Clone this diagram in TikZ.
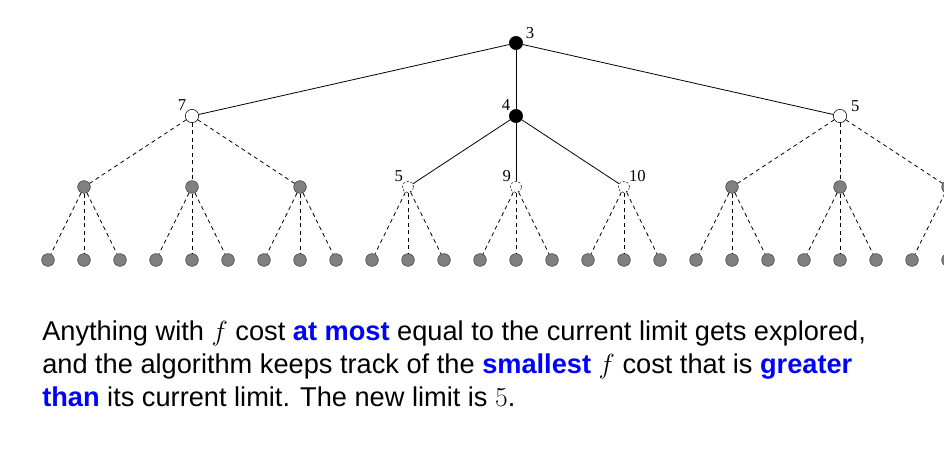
\documentclass[tikz,border=0pt]{standalone}
\usepackage{amsmath}
\usepackage{fontspec}
\setmainfont{Liberation Sans}
\newfontfamily\numfont{Liberation Serif}
\usepackage{tikz}

\begin{document}
\begin{tikzpicture}[x=0.75pt,y=0.75pt,yscale=-1,xscale=1,
  solidnode/.style={circle,draw,fill=black,inner sep=0pt,minimum size=10pt},
  opennode/.style={circle,draw,fill=white,inner sep=0pt,minimum size=10pt},
  fringenode/.style={circle,draw,fill=white,inner sep=0pt,minimum size=8.5pt,dash pattern={on 1.5pt off 1.5pt}},
  leafnode/.style={circle,draw=black!75,fill=black!50,inner sep=0pt,minimum size=9.5pt},
  lbl/.style={font=\numfont\fontsize{12.5}{12.5}\selectfont,inner sep=0.5pt},
  treeedge/.style={line width=0.6pt},
  dashedge/.style={line width=0.6pt,dash pattern={on 3pt off 2.6pt}},
  caption/.style={anchor=base west,inner sep=0pt,font=\fontsize{20.4}{24}\selectfont}]
\useasboundingbox (0,0) rectangle (944,473);
\clip (0,0) rectangle (944,473);

%Root and first level
\node [solidnode] (root) at (516,43) {};
\node [opennode] (n7) at (192,116) {};
\node [solidnode] (n4) at (516,116) {};
\node [opennode] (n5) at (840,116) {};

%Second level
\node [leafnode] (a1) at (84,187) {};
\node [leafnode] (a2) at (192,187) {};
\node [leafnode] (a3) at (300,187) {};
\node [fringenode] (b1) at (408,187) {};
\node [fringenode] (b2) at (516,187) {};
\node [fringenode] (b3) at (624,187) {};
\node [leafnode] (c1) at (732,187) {};
\node [leafnode] (c2) at (840,187) {};
\node [leafnode] (c3) at (948,187) {};

%Leaves
\node [leafnode] (a11) at (48,260) {};
\node [leafnode] (a12) at (84,260) {};
\node [leafnode] (a13) at (120,260) {};
\node [leafnode] (a21) at (156,260) {};
\node [leafnode] (a22) at (192,260) {};
\node [leafnode] (a23) at (228,260) {};
\node [leafnode] (a31) at (264,260) {};
\node [leafnode] (a32) at (300,260) {};
\node [leafnode] (a33) at (336,260) {};
\node [leafnode] (b11) at (372,260) {};
\node [leafnode] (b12) at (408,260) {};
\node [leafnode] (b13) at (444,260) {};
\node [leafnode] (b21) at (480,260) {};
\node [leafnode] (b22) at (516,260) {};
\node [leafnode] (b23) at (552,260) {};
\node [leafnode] (b31) at (588,260) {};
\node [leafnode] (b32) at (624,260) {};
\node [leafnode] (b33) at (660,260) {};
\node [leafnode] (c11) at (696,260) {};
\node [leafnode] (c12) at (732,260) {};
\node [leafnode] (c13) at (768,260) {};
\node [leafnode] (c21) at (804,260) {};
\node [leafnode] (c22) at (840,260) {};
\node [leafnode] (c23) at (876,260) {};
\node [leafnode] (c31) at (912,260) {};
\node [leafnode] (c32) at (948,260) {};

%Solid edges
\draw [treeedge] (root) -- (n7) ;
\draw [treeedge] (root) -- (n4) ;
\draw [treeedge] (root) -- (n5) ;
\draw [treeedge] (n4) -- (b1) ;
\draw [treeedge] (n4) -- (b2) ;
\draw [treeedge] (n4) -- (b3) ;

%Dashed edges
\draw [dashedge] (n7) -- (a1) ;
\draw [dashedge] (n7) -- (a2) ;
\draw [dashedge] (n7) -- (a3) ;
\draw [dashedge] (n5) -- (c1) ;
\draw [dashedge] (n5) -- (c2) ;
\draw [dashedge] (n5) -- (c3) ;
\draw [dashedge] (a1) -- (a11) ;
\draw [dashedge] (a1) -- (a12) ;
\draw [dashedge] (a1) -- (a13) ;
\draw [dashedge] (a2) -- (a21) ;
\draw [dashedge] (a2) -- (a22) ;
\draw [dashedge] (a2) -- (a23) ;
\draw [dashedge] (a3) -- (a31) ;
\draw [dashedge] (a3) -- (a32) ;
\draw [dashedge] (a3) -- (a33) ;
\draw [dashedge] (b1) -- (b11) ;
\draw [dashedge] (b1) -- (b12) ;
\draw [dashedge] (b1) -- (b13) ;
\draw [dashedge] (b2) -- (b21) ;
\draw [dashedge] (b2) -- (b22) ;
\draw [dashedge] (b2) -- (b23) ;
\draw [dashedge] (b3) -- (b31) ;
\draw [dashedge] (b3) -- (b32) ;
\draw [dashedge] (b3) -- (b33) ;
\draw [dashedge] (c1) -- (c11) ;
\draw [dashedge] (c1) -- (c12) ;
\draw [dashedge] (c1) -- (c13) ;
\draw [dashedge] (c2) -- (c21) ;
\draw [dashedge] (c2) -- (c22) ;
\draw [dashedge] (c2) -- (c23) ;
\draw [dashedge] (c3) -- (c31) ;
\draw [dashedge] (c3) -- (c32) ;

% Text Node
\node [lbl,anchor=south west,xshift=3pt,yshift=-1.5pt] (t3) at (root.north east) {3};
\node [lbl,anchor=south east] (t7) at (n7.north west) {7};
\node [lbl,anchor=south east] (t4) at (n4.north west) {4};
\node [lbl,anchor=south west,xshift=4pt,yshift=-1pt] (t5) at (n5.north east) {5};
\node [lbl,anchor=south east] (tb1) at (b1.north west) {5};
\node [lbl,anchor=south east] (tb2) at (b2.north west) {9};
\node [lbl,anchor=south west] (tb3) at (b3.north east) {10};

% Text Node
\node [caption] (line1) at (42,340.7) {Anything with $f$ cost \textcolor{blue}{\textbf{at most}} equal to the current limit gets explored,};
\node [caption] (line2) at (42,373.5) {and the algorithm keeps track of the \textcolor{blue}{\textbf{smallest}} $f$ cost that is \textcolor{blue}{\textbf{greater}}};
\node [caption] (line3) at (42,406) {\textcolor{blue}{\textbf{than}} its current limit. The new limit is $5$.};

\end{tikzpicture}
\end{document}
